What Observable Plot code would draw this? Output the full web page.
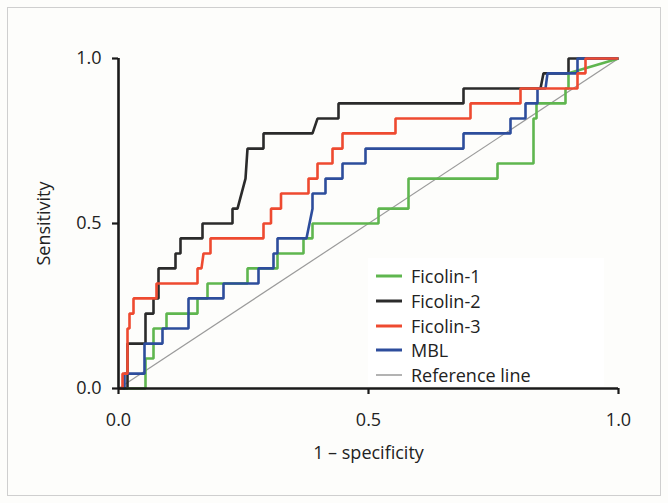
<!DOCTYPE html>
<html><head><meta charset="utf-8">
<script src="https://cdn.jsdelivr.net/npm/d3@7"></script>
<script src="https://cdn.jsdelivr.net/npm/@observablehq/plot@0.6"></script>
<style>
body{margin:0;background:#fdfdfb;font-family:"Open Sans",sans-serif;}
#wrap{position:relative;width:668px;height:503px;}
#wrap > svg text{font-size:18px !important;font-family:"Open Sans",sans-serif !important;fill:#222;}
#frame{position:absolute;left:7px;top:7px;width:654px;height:489px;border:1px solid #cfcfcf;box-sizing:border-box;pointer-events:none}
#legend{position:absolute;left:368px;top:258px;width:236px;height:128px;background:#fff;}
.row{position:absolute;left:8px;height:24px;display:flex;align-items:center;font-size:18px;color:#222;}
.sw{width:26px;margin-right:9px;}
</style>
</head><body>
<div id="wrap"><div id="frame"></div><div id="legend"></div></div>
<script>
// Ficolin-1 (green)
const f1Fpr = [0,0.054,0.054,0.07,0.07,0.096,0.096,0.158,0.158,0.178,0.178,0.258,0.258,0.318,0.318,0.37,0.37,0.388,0.388,0.52,0.52,0.58,0.58,0.758,0.758,0.83,0.83,0.836,0.836,0.894,0.894,0.9,0.9,1];
const f1Tpr = [0,0,0.091,0.091,0.182,0.182,0.227,0.227,0.273,0.273,0.318,0.318,0.364,0.364,0.409,0.409,0.455,0.455,0.5,0.5,0.545,0.545,0.636,0.636,0.682,0.682,0.818,0.818,0.864,0.864,0.909,0.909,0.955,1];
// Ficolin-2 (black)
const f2Fpr = [0,0.018,0.018,0.054,0.054,0.07,0.07,0.08,0.08,0.114,0.114,0.124,0.124,0.168,0.168,0.228,0.228,0.238,0.254,0.258,0.29,0.29,0.388,0.398,0.44,0.44,0.69,0.69,0.844,0.85,0.9,0.9,1];
const f2Tpr = [0,0,0.136,0.136,0.227,0.227,0.273,0.273,0.364,0.364,0.409,0.409,0.455,0.455,0.5,0.5,0.545,0.545,0.636,0.727,0.727,0.773,0.773,0.818,0.818,0.864,0.864,0.909,0.909,0.955,0.955,1,1];
// Ficolin-3 (red)
const f3Fpr = [0,0.008,0.008,0.018,0.018,0.022,0.022,0.03,0.03,0.076,0.076,0.158,0.158,0.166,0.17,0.184,0.184,0.29,0.29,0.305,0.305,0.325,0.325,0.38,0.38,0.398,0.398,0.428,0.428,0.448,0.448,0.554,0.554,0.704,0.704,0.804,0.804,0.918,0.918,0.934,0.934,1];
const f3Tpr = [0,0,0.045,0.045,0.182,0.182,0.227,0.227,0.273,0.273,0.318,0.318,0.364,0.364,0.409,0.409,0.455,0.455,0.5,0.5,0.545,0.545,0.591,0.591,0.636,0.636,0.682,0.682,0.727,0.727,0.773,0.773,0.818,0.818,0.864,0.864,0.909,0.909,0.955,0.955,1,1];
// MBL (blue)
const mblFpr = [0,0.012,0.012,0.052,0.052,0.088,0.088,0.14,0.14,0.21,0.21,0.28,0.28,0.31,0.31,0.318,0.318,0.376,0.382,0.388,0.388,0.414,0.414,0.448,0.448,0.494,0.494,0.69,0.69,0.784,0.784,0.814,0.814,0.838,0.838,0.854,0.858,0.918,0.918,1];
const mblTpr = [0,0,0.045,0.045,0.136,0.136,0.182,0.182,0.273,0.273,0.318,0.318,0.364,0.364,0.409,0.409,0.455,0.455,0.5,0.545,0.591,0.591,0.636,0.636,0.682,0.682,0.727,0.727,0.773,0.773,0.818,0.818,0.864,0.864,0.909,0.909,0.955,0.955,1,1];
// Reference line
const refFpr = [0,1];
const refTpr = [0,1];

const seriesNames = ["Ficolin-1","Ficolin-2","Ficolin-3","MBL","Reference line"];
const seriesColors = ["#5fb64f","#2b2b2b","#ee4a30","#2d4d9c","#9a9a9a"];
const seriesWidths = [2.6,2.6,2.6,2.6,1.2];
const axisTicks = [0,0.5,1];

const toRows = (xs, ys, name) => xs.map((x,i)=>({x, y: ys[i], name}));
const data = {
  "Ficolin-1": toRows(f1Fpr,f1Tpr,"Ficolin-1"),
  "Ficolin-2": toRows(f2Fpr,f2Tpr,"Ficolin-2"),
  "Ficolin-3": toRows(f3Fpr,f3Tpr,"Ficolin-3"),
  "MBL": toRows(mblFpr,mblTpr,"MBL"),
  "Reference line": toRows(refFpr,refTpr,"Reference line")
};
const drawOrder = ["Reference line","Ficolin-2","Ficolin-1","MBL","Ficolin-3"];
const lineMarks = drawOrder.map(n => {
  const i = seriesNames.indexOf(n);
  return Plot.line(data[n], {x:"x", y:"y", stroke: seriesColors[i], strokeWidth: seriesWidths[i], strokeLinejoin:"miter", strokeLinecap:"butt"});
});

const chart = Plot.plot({
  width: 668, height: 503,
  marginLeft: 118, marginRight: 50, marginTop: 58, marginBottom: 115,
  style: {background:"transparent", fontFamily:"Open Sans, sans-serif", fontSize:"18px", color:"#222", overflow:"visible"},
  x: {domain:[0,1]},
  y: {domain:[0,1]},
  marks: [
    ...lineMarks,
    Plot.ruleX([0], {stroke:"#1a1a1a", strokeWidth:2.6}),
    Plot.ruleY([0], {stroke:"#1a1a1a", strokeWidth:2.6}),
    Plot.axisX({ticks: axisTicks, tickFormat: d3.format(".1f"), tickSize: 6, tickPadding: 19, strokeWidth: 2.2, stroke:"#1a1a1a", fill:"#222",
      label: "1 – specificity", labelAnchor: "center", labelArrow: "none", labelOffset: 70}),
    Plot.axisY({ticks: axisTicks, tickFormat: d3.format(".1f"), tickSize: 6, tickPadding: 11, strokeWidth: 2.2, stroke:"#1a1a1a", fill:"#222",
      label: "Sensitivity", labelAnchor: "center", labelArrow: "none", labelOffset: 81})
  ]
});
document.getElementById("wrap").prepend(chart);
chart.style.position = "absolute"; chart.style.left = "0"; chart.style.top = "0";

const legend = document.getElementById("legend");
seriesNames.forEach((n,i) => {
  const row = document.createElement("div");
  row.className = "row";
  row.style.top = (6 + i*24.8) + "px";
  row.innerHTML = `<svg class="sw" width="26" height="6"><line x1="0" x2="26" y1="3" y2="3" stroke="${seriesColors[i]}" stroke-width="${i===4?1.5:3}"/></svg><span>${n}</span>`;
  legend.appendChild(row);
});
</script>
</body></html>
